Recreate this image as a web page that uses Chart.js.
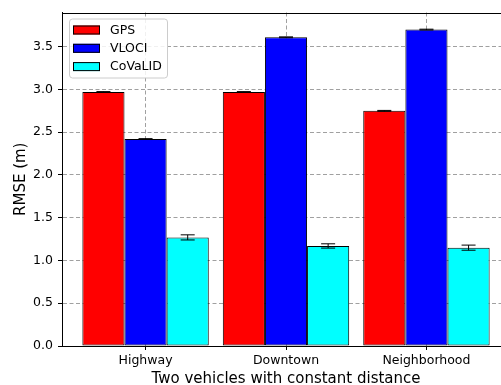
<!DOCTYPE html>
<html>
<head>
<meta charset="utf-8">
<script src="https://cdn.jsdelivr.net/npm/chart.js@4"></script>
<style>
  html, body { margin: 0; padding: 0; background: #fff; overflow: hidden; width: 501px; height: 385px; }
  #chart { display: block; }
</style>
</head>
<body>
<canvas id="chart" width="510" height="385"></canvas>
<script>
const categories = ['Highway', 'Downtown', 'Neighborhood'];
const positions = [0, 1, 2];
const seriesNames = ['GPS', 'VLOCI', 'CoVaLID'];
const gpsValues = [2.97, 2.97, 2.75];
const vlociValues = [2.42, 3.61, 3.70];
const covalidValues = [1.27, 1.17, 1.15];
const gpsErrors = [0.005, 0.005, 0.005];
const vlociErrors = [0.005, 0.005, 0.005];
const covalidErrors = [0.03, 0.025, 0.03];
const seriesColors = ['#ff0000', '#0000ff', '#00ffff'];

const fontFamily = "'DejaVu Sans', sans-serif";

function makeSet(label, values, errors, color) {
  return {
    label: label,
    data: values.map((v, i) => ({ x: positions[i], y: v })),
    errors: errors,
    backgroundColor: color,
    borderColor: '#000',
    borderWidth: 1,
    borderSkipped: false,
    categoryPercentage: 0.9,
    barPercentage: 1.0
  };
}

// error bars with caps, drawn through the y scale
const errorBars = {
  id: 'errorBars',
  afterDatasetsDraw(chart) {
    const ctx = chart.ctx;
    const yScale = chart.scales.y;
    ctx.save();
    ctx.strokeStyle = '#000';
    ctx.lineWidth = 1;
    chart.data.datasets.forEach((ds, di) => {
      const meta = chart.getDatasetMeta(di);
      meta.data.forEach((bar, i) => {
        const v = ds.data[i].y, e = ds.errors[i];
        const yTop = yScale.getPixelForValue(v + e);
        const yBot = yScale.getPixelForValue(v - e);
        const x = bar.x;
        ctx.beginPath();
        ctx.moveTo(x, yTop); ctx.lineTo(x, yBot);
        ctx.moveTo(x - 7, yTop); ctx.lineTo(x + 7, yTop);
        ctx.moveTo(x - 7, yBot); ctx.lineTo(x + 7, yBot);
        ctx.stroke();
      });
    });
    ctx.restore();
  }
};

// top spine and the framed legend inside the plot
const frameLegend = {
  id: 'frameLegend',
  afterDraw(chart) {
    const ctx = chart.ctx;
    const a = chart.chartArea;
    ctx.save();
    ctx.strokeStyle = '#000';
    ctx.lineWidth = 1;
    ctx.beginPath();
    ctx.moveTo(a.left, Math.round(a.top) + 0.5);
    ctx.lineTo(a.right, Math.round(a.top) + 0.5);
    ctx.stroke();

    const bx = a.left + 7.5, by = a.top + 6.5, bw = 98, bh = 59, r = 3;
    ctx.beginPath();
    ctx.moveTo(bx + r, by);
    ctx.arcTo(bx + bw, by, bx + bw, by + bh, r);
    ctx.arcTo(bx + bw, by + bh, bx, by + bh, r);
    ctx.arcTo(bx, by + bh, bx, by, r);
    ctx.arcTo(bx, by, bx + bw, by, r);
    ctx.closePath();
    ctx.fillStyle = 'rgba(255,255,255,0.85)';
    ctx.fill();
    ctx.strokeStyle = '#cccccc';
    ctx.stroke();

    ctx.font = '12.5px ' + fontFamily;
    ctx.textBaseline = 'middle';
    ctx.textAlign = 'left';
    chart.data.datasets.forEach((ds, i) => {
      const cy = a.top + 17.5 + i * 18.3;
      ctx.fillStyle = ds.backgroundColor;
      ctx.fillRect(a.left + 11, cy - 4.5, 27, 9);
      ctx.strokeStyle = '#000';
      ctx.strokeRect(a.left + 11.5, cy - 4, 26, 8);
      ctx.fillStyle = '#000';
      ctx.fillText(ds.label, a.left + 48, cy + 0.5);
    });
    ctx.restore();
  }
};

const ctx = document.getElementById('chart').getContext('2d');
new Chart(ctx, {
  type: 'bar',
  data: {
    datasets: [
      makeSet(seriesNames[0], gpsValues, gpsErrors, seriesColors[0]),
      makeSet(seriesNames[1], vlociValues, vlociErrors, seriesColors[1]),
      makeSet(seriesNames[2], covalidValues, covalidErrors, seriesColors[2])
    ]
  },
  options: {
    responsive: false,
    animation: false,
    devicePixelRatio: 1,
    layout: { padding: { top: 12, left: 0, right: 0, bottom: 0 } },
    plugins: { legend: { display: false }, tooltip: { enabled: false } },
    scales: {
      x: {
        type: 'linear',
        min: -0.595,
        max: 2.595,
        offset: false,
        z: 1,
        afterBuildTicks: s => { s.ticks = positions.map(v => ({ value: v })); },
        afterFit: s => { s.height = 39; },
        ticks: {
          callback: v => categories[positions.indexOf(v)] ?? '',
          font: { family: fontFamily, size: 12.5 },
          color: '#000',
          padding: 3.5,
          maxRotation: 0,
          autoSkip: false
        },
        grid: {
          color: 'rgba(128,128,128,0.75)',
          tickColor: '#000',
          tickBorderDash: [],
          tickLength: 4,
          offset: false
        },
        border: { color: '#000', width: 1, dash: [4, 2.5] },
        title: {
          display: true,
          text: 'Two vehicles with constant distance',
          font: { family: fontFamily, size: 15, lineHeight: 1 },
          color: '#000',
          padding: { top: 0, bottom: -1.5 }
        }
      },
      y: {
        min: 0,
        max: 3.9,
        z: 1,
        afterFit: s => { s.width = 62; },
        ticks: {
          stepSize: 0.5,
          includeBounds: false,
          callback: v => v.toFixed(1),
          font: { family: fontFamily, size: 12.5 },
          color: '#000',
          padding: 5
        },
        grid: {
          color: 'rgba(128,128,128,0.75)',
          tickColor: '#000',
          tickBorderDash: [],
          tickLength: 4
        },
        border: { color: '#000', width: 1, dash: [4, 2.5] },
        title: {
          display: true,
          text: 'RMSE (m)',
          font: { family: fontFamily, size: 15, lineHeight: 1 },
          color: '#000',
          padding: { top: 14, bottom: 0 }
        }
      }
    }
  },
  plugins: [errorBars, frameLegend]
});
</script>
</body>
</html>
